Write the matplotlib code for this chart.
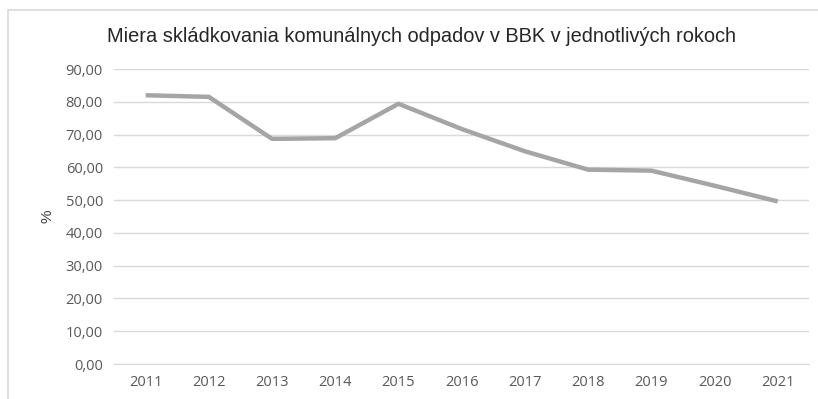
import matplotlib
matplotlib.use("Agg")
import matplotlib.pyplot as plt
import matplotlib.patches as patches
from matplotlib.ticker import FuncFormatter

# údaje odčítané z grafu
roky = ["2011", "2012", "2013", "2014", "2015", "2016",
        "2017", "2018", "2019", "2020", "2021"]
miera = [82.0, 81.5, 68.7, 68.9, 79.4, 71.7, 64.9, 59.3, 59.0, 54.4, 49.6]
y_ticks = [0, 10, 20, 30, 40, 50, 60, 70, 80, 90]

title = "Miera skládkovania komunálnych odpadov v BBK v jednotlivých rokoch"

fig = plt.figure(figsize=(8.18, 3.99), dpi=100)
ax = fig.add_axes([0.1394, 0.0877, 0.850, 0.7393])

# rámček oblasti grafu
fig.patches.append(patches.Rectangle((8 / 818, -0.1), 1.2, 1 - 10 / 399 + 0.1,
                                     transform=fig.transFigure, fill=False,
                                     edgecolor="#d9d9d9", linewidth=1.2))

x = range(len(roky))
ax.plot(x, miera, color="#a5a5a5", linewidth=3.2, solid_capstyle="butt",
        solid_joinstyle="round", zorder=3)

ax.set_xlim(-0.5, len(roky) - 0.5)
ax.set_ylim(0, 90)
ax.set_yticks(y_ticks)
ax.yaxis.set_major_formatter(FuncFormatter(lambda v, p: f"{v:.2f}".replace(".", ",")))
ax.set_xticks(list(x))
ax.set_xticklabels(roky)

ax.grid(axis="y", color="#d9d9d9", linewidth=1.0)
ax.set_axisbelow(True)
for s in ["top", "right", "left"]:
    ax.spines[s].set_visible(False)
ax.spines["bottom"].set_color("#d9d9d9")
ax.tick_params(axis="both", length=0, labelsize=10.5, labelcolor="#595959")
ax.tick_params(axis="y", pad=8)
ax.tick_params(axis="x", pad=8)
for lbl in ax.get_xticklabels() + ax.get_yticklabels():
    lbl.set_fontfamily("Open Sans")

ax.set_ylabel("%", fontsize=11, color="#404040", fontfamily="Liberation Sans", labelpad=8)

fig.text(0.515, 1 - 36 / 399, title, ha="center", va="center",
         fontsize=14.4, color="#262626", fontfamily="Liberation Sans")

fig.savefig("out.png", dpi=100)
